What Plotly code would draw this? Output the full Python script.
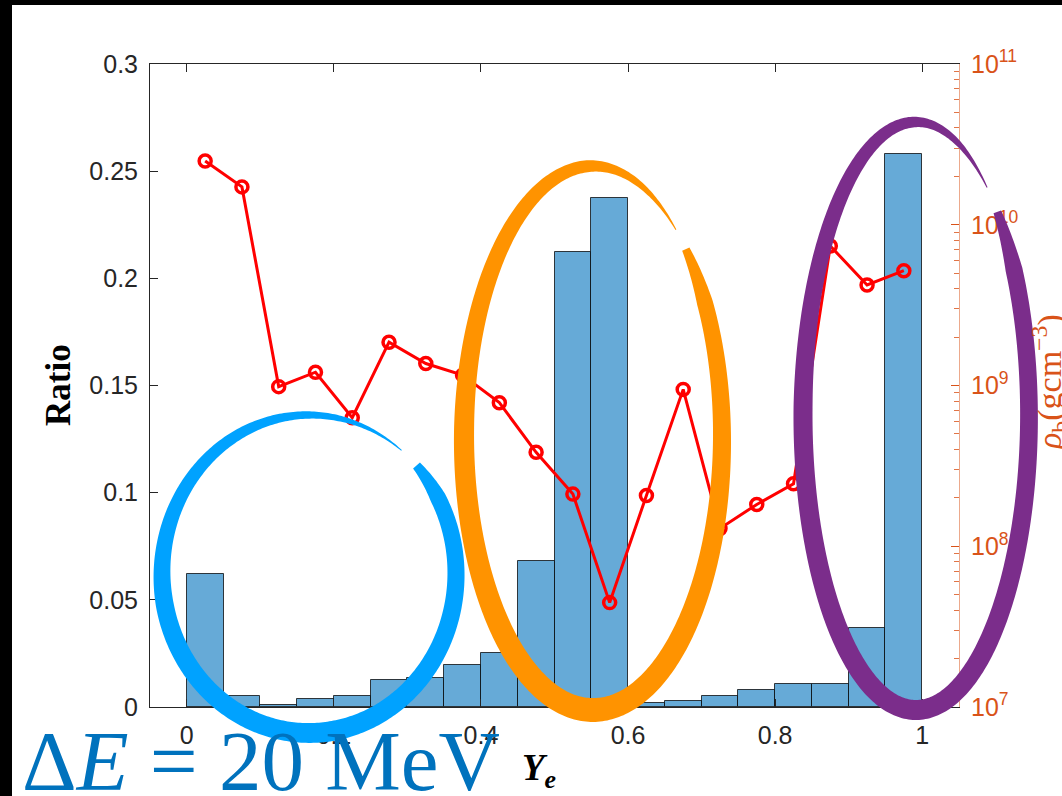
import numpy as np
import plotly.graph_objects as go

# ---------------- data ----------------
ye_bin_centers = [0.025, 0.075, 0.125, 0.175, 0.225, 0.275, 0.325, 0.375, 0.425, 0.475,
                  0.525, 0.575, 0.625, 0.675, 0.725, 0.775, 0.825, 0.875, 0.925, 0.975]
ratio = [0.062, 0.005, 0.001, 0.0039, 0.005, 0.0126, 0.0137, 0.0194, 0.0253, 0.068,
         0.2124, 0.2376, 0.002, 0.0029, 0.005, 0.0078, 0.0107, 0.0107, 0.0369, 0.258]
rho_b = [2.49e10, 1.72e10, 9.84e8, 1.21e9, 6.31e8, 1.86e9, 1.37e9, 1.16e9, 7.82e8, 3.84e8,
         2.11e8, 4.46e7, 2.07e8, 9.46e8, 1.29e8, 1.82e8, 2.45e8, 7.38e9, 4.22e9, 5.18e9]

x_tickvals = [0, 0.2, 0.4, 0.6, 0.8, 1]
x_ticktext = ["0", "0.2", "0.4", "0.6", "0.8", "1"]
y_tickvals = [0, 0.05, 0.1, 0.15, 0.2, 0.25, 0.3]
y_ticktext = ["0", "0.05", "0.1", "0.15", "0.2", "0.25", "0.3"]
y2_tickvals = [1e7, 1e8, 1e9, 1e10, 1e11]
y2_ticktext = ["10<sup>7</sup>", "10<sup>8</sup>", "10<sup>9</sup>", "10<sup>10</sup>", "10<sup>11</sup>"]
y2_minor = [k * 10 ** n for n in range(7, 11) for k in range(2, 10)]

# ---------------- layout geometry ----------------
W, H = 1062, 796
ML, MR, MT, MB = 150, 103, 64, 89
PW, PH = W - ML - MR, H - MT - MB

def px2x(px):
    return (px - ML) / PW

def py2y(py):
    return (H - MB - py) / PH

AX = "#262626"
ORANGE = "#D95319"

fig = go.Figure()
fig.add_trace(go.Bar(
    x=ye_bin_centers, y=ratio, width=0.05,
    marker=dict(color="rgb(102,170,215)", line=dict(color="rgba(0,0,0,0.75)", width=1)),
    showlegend=False, yaxis="y"))
fig.add_trace(go.Scatter(
    x=ye_bin_centers, y=rho_b, mode="lines+markers", yaxis="y2",
    line=dict(color="#FF0000", width=3),
    marker=dict(symbol="circle-open", size=12, color="#FF0000", line=dict(width=3.5)),
    showlegend=False))

# ---------------- hand-drawn ellipses ----------------
def band_path(cx, cy, rx, ry, t0, sweep, knots_s, knots_w, n=400):
    s = np.linspace(0, 1, n)
    t = np.radians(t0 - sweep * s)
    w = np.interp(s, knots_s, knots_w)
    mx = cx + rx * np.cos(t)
    my = cy - ry * np.sin(t)
    nx = np.cos(t) / rx
    ny = np.sin(t) / ry
    nn = np.hypot(nx, ny)
    nx, ny = nx / nn, ny / nn
    ox, oy = mx + nx * w / 2, my - ny * w / 2
    ix, iy = mx - nx * w / 2, my + ny * w / 2
    xs = np.concatenate([ox, ix[::-1]])
    ys = np.concatenate([oy, iy[::-1]])
    pts = [f"{px2x(a):.5f},{py2y(b):.5f}" for a, b in zip(xs, ys)]
    return "M" + " L".join(pts) + " Z"

ellipses = [
    # color, cx, cy, rx, ry, start angle, sweep, width knots
    ("#00A2FF", 309, 574, 147, 159, 43, 352, [0, 0.04, 0.35, 0.6, 0.8, 0.92, 1], [9, 16, 20, 18, 11, 6, 1]),
    ("#FF9300", 593, 438, 129, 272, 44, 354, [0, 0.04, 0.38, 0.64, 0.88, 0.95, 1], [8, 16, 24, 20, 12, 6, 1]),
    ("#7B2D8B", 916, 416, 113, 294, 44, 353, [0, 0.04, 0.38, 0.64, 0.88, 0.95, 1], [8, 17, 20, 19, 11, 6, 1]),
]
shapes = []
for col, cx, cy, rx, ry, t0, sw, ks, kw in ellipses:
    shapes.append(dict(type="path", xref="paper", yref="paper",
                       path=band_path(cx, cy, rx, ry, t0, sw, ks, kw),
                       fillcolor=col, line=dict(width=0), layer="above"))

# black frame strips (top and left)
shapes.append(dict(type="rect", xref="paper", yref="paper",
                   x0=px2x(0), x1=px2x(12), y0=py2y(H), y1=py2y(0),
                   fillcolor="black", line=dict(width=0), layer="above"))
shapes.append(dict(type="rect", xref="paper", yref="paper",
                   x0=px2x(0), x1=px2x(W), y0=py2y(5), y1=py2y(0),
                   fillcolor="black", line=dict(width=0), layer="above"))

annotations = [
    dict(text="<b>Ratio</b>", xref="paper", yref="paper", x=px2x(59), y=py2y(385),
         textangle=-90, showarrow=False, xanchor="center", yanchor="middle",
         font=dict(family="Liberation Serif", size=35, color="black")),
    dict(text="<b><i>Y</i></b><sub><b><i>e</i></b></sub>", xref="paper", yref="paper",
         x=px2x(539), y=py2y(770), showarrow=False, xanchor="center", yanchor="middle",
         font=dict(family="Liberation Serif", size=37, color="black")),
    dict(text="<i>ρ</i><sub>b</sub>(gcm<sup>−3</sup>)", xref="paper", yref="paper",
         x=px2x(1049), y=py2y(382), textangle=-90, showarrow=False,
         xanchor="center", yanchor="middle",
         font=dict(family="Liberation Serif", size=34, color=ORANGE)),
    dict(text="Δ<i>E</i> = 20 MeV", xref="paper", yref="paper",
         x=px2x(20), y=py2y(761), showarrow=False, xanchor="left", yanchor="middle",
         font=dict(family="Liberation Serif", size=85, color="#0072BD")),
]

fig.update_layout(
    width=W, height=H, autosize=False,
    margin=dict(l=ML, r=MR, t=MT, b=MB, pad=0),
    paper_bgcolor="white", plot_bgcolor="white",
    bargap=0,
    xaxis=dict(range=[-0.05, 1.05], showgrid=False, zeroline=False,
               showline=True, linecolor=AX, linewidth=1, mirror="ticks",
               ticks="inside", ticklen=8, tickcolor=AX,
               tickvals=x_tickvals, ticktext=x_ticktext, ticklabelstandoff=6,
               tickfont=dict(family="Liberation Sans", size=25, color=AX)),
    yaxis=dict(range=[0, 0.3], showgrid=False, zeroline=False,
               showline=True, linecolor=AX, linewidth=1,
               ticks="inside", ticklen=8, tickcolor=AX,
               tickvals=y_tickvals, ticktext=y_ticktext, ticklabelstandoff=6,
               tickfont=dict(family="Liberation Sans", size=25, color=AX)),
    yaxis2=dict(type="log", range=[7, 11], overlaying="y", side="right",
                showgrid=False, zeroline=False, showline=True,
                linecolor="rgba(217,83,25,0.5)", linewidth=1,
                ticks="inside", ticklen=8, tickcolor=ORANGE,
                tickvals=y2_tickvals, ticktext=y2_ticktext, ticklabelstandoff=6,
                tickfont=dict(family="Liberation Sans", size=25, color=ORANGE),
                minor=dict(tickvals=y2_minor, ticks="inside", ticklen=5,
                           tickcolor="rgba(217,83,25,0.8)", showgrid=False)),
    shapes=shapes, annotations=annotations,
)

fig.write_html("out.html")
